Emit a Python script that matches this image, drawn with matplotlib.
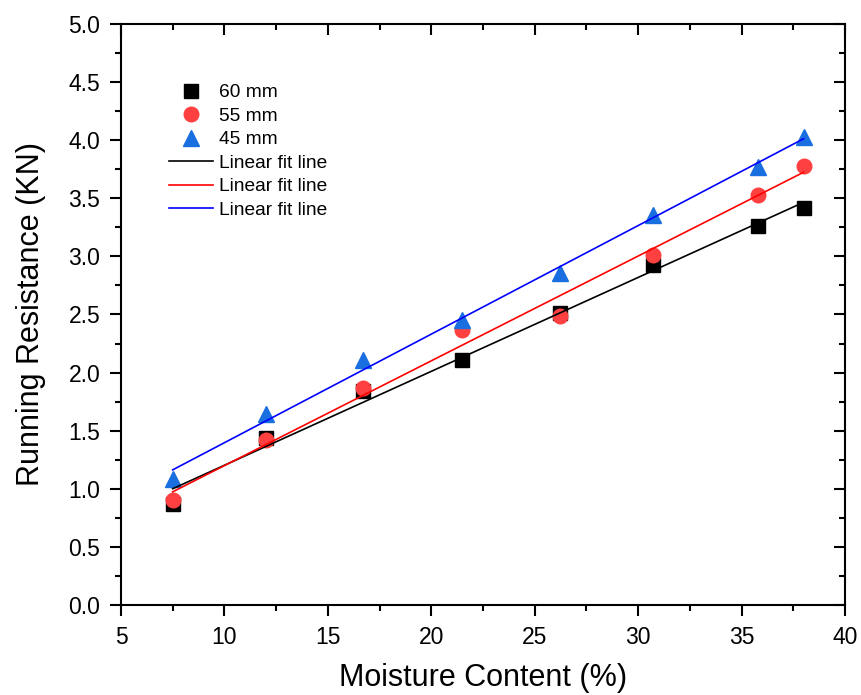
import numpy as np
import matplotlib.pyplot as plt

plt.rcParams['font.family'] = ['Liberation Sans', 'DejaVu Sans']

moisture = [7.5, 12.0, 16.7, 21.5, 26.2, 30.7, 35.8, 38.0]
r60 = [0.87, 1.44, 1.84, 2.11, 2.51, 2.93, 3.26, 3.42]
r55 = [0.90, 1.42, 1.87, 2.37, 2.49, 3.01, 3.53, 3.78]
r45 = [1.08, 1.64, 2.11, 2.45, 2.86, 3.36, 3.77, 4.03]
labels = ['60 mm', '55 mm', '45 mm']

x = np.array(moisture)

fig = plt.figure(figsize=(8.61, 6.95), dpi=100)
ax = fig.add_axes([0.1405, 0.1295, 0.8409, 0.836])

# scatter points
ax.plot(x, r60, 's', color='black', ms=9.5, ls='none', label=labels[0])
ax.plot(x, r55, 'o', color='#ff4040', ms=10.5, ls='none', label=labels[1])
ax.plot(x, r45, '^', color='#1a6fe0', ms=11.5, ls='none', label=labels[2])

# linear fits
xx = np.array([x.min(), x.max()])
for y, c in zip([r60, r55, r45], ['black', '#ff0000', '#0000ff']):
    k, b = np.polyfit(x, y, 1)
    ax.plot(xx, k * xx + b, color=c, lw=1.2, label='Linear fit line')

ax.set_xlim(5, 40)
ax.set_ylim(0, 5)
ax.set_xticks(np.arange(5, 41, 5))
ax.set_yticks(np.arange(0, 5.01, 0.5))
ax.set_xticks(np.arange(7.5, 40, 5), minor=True)
ax.set_yticks(np.arange(0.25, 5, 0.5), minor=True)
ax.set_yticklabels(['%.1f' % v for v in np.arange(0, 5.01, 0.5)])

ax.tick_params(which='both', direction='out', width=1.5, labelsize=16.5,
               top=True, right=True, pad=7)
ax.tick_params(which='major', length=8)
ax.tick_params(which='minor', length=4.5)
# top/right ticks point inward
for t in ax.xaxis.get_major_ticks() + ax.xaxis.get_minor_ticks():
    t.tick2line.set_marker(3)
for t in ax.yaxis.get_major_ticks() + ax.yaxis.get_minor_ticks():
    t.tick2line.set_marker(0)
for s in ax.spines.values():
    s.set_linewidth(1.5)

ax.set_xlabel('Moisture Content (%)', fontsize=22, labelpad=10)
ax.set_ylabel('Running Resistance (KN)', fontsize=22, labelpad=16)

ax.legend(loc='upper left', bbox_to_anchor=(0.056, 0.91), frameon=False,
          fontsize=13.75, handlelength=2.3, handletextpad=0.3,
          labelspacing=0.32, borderaxespad=0)

fig.savefig('out.png', dpi=100)
